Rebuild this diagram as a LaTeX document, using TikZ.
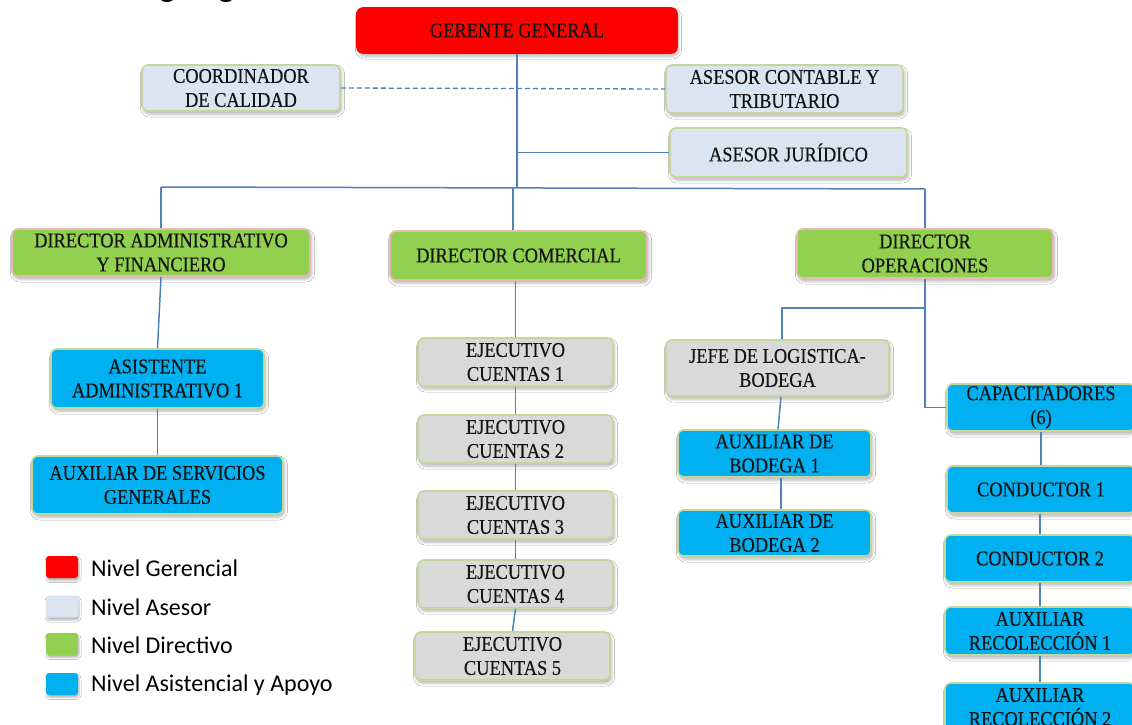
\documentclass[tikz,border=0pt]{standalone}
\usepackage{fontspec}
\setmainfont{Liberation Serif}
\newfontfamily\cardfont{Liberation Serif}[FakeStretch=0.88, FakeBold=0.4]
\newfontfamily\legendfont{Carlito}
\usetikzlibrary{shadows.blur}

\definecolor{gerred}{HTML}{FF0000}
\definecolor{asesorfill}{HTML}{DBE5F1}
\definecolor{paleolive}{HTML}{C3D69B}
\definecolor{dirgreen}{HTML}{92D050}
\definecolor{dirborder}{HTML}{E6B9B8}
\definecolor{apoyoblue}{HTML}{00B0F0}
\definecolor{ejgray}{HTML}{D9D9D9}
\definecolor{lineblue}{HTML}{4F81BD}
\definecolor{inktext}{HTML}{141414}

\tikzset{
  card/.style={rectangle, rounded corners=6pt, inner sep=0pt, align=center,
    text=inktext, font=\cardfont\fontsize{20.9}{24}\selectfont, line width=1.6pt,
    blur shadow={shadow xshift=1.5pt, shadow yshift=-3pt, shadow blur radius=3pt, shadow opacity=30}},
  gerbox/.style={card, fill=gerred, draw=gerred},
  asesorbox/.style={card, fill=asesorfill, draw=paleolive},
  dirbox/.style={card, fill=dirgreen, draw=dirborder},
  apoyobox/.style={card, fill=apoyoblue, draw=paleolive},
  ejbox/.style={card, fill=ejgray, draw=paleolive},
  conn/.style={draw=lineblue, line width=1.5pt},
  swatch/.style={rectangle, rounded corners=3pt, minimum width=32pt, minimum height=22pt,
    inner sep=0pt,
    blur shadow={shadow xshift=1pt, shadow yshift=-2.5pt, shadow blur radius=2pt, shadow opacity=30}},
  legendtext/.style={anchor=west, inner sep=0pt, text=black, font=\legendfont\fontsize{24}{28}\selectfont}
}

\begin{document}
\begin{tikzpicture}[x=1pt, y=-1pt]
\useasboundingbox (0,0) rectangle (1132,725);
\clip (0,0) rectangle (1132,725);
\fill[white] (0,0) rectangle (1132,725);

% heading, running above the top edge so only its descenders show
\node[anchor=base west, inner sep=0pt, font=\legendfont\fontsize{35}{40}\selectfont] (title) at (124,-3) {Organigrama};

% management and advisers
\node[gerbox, minimum width=320pt, minimum height=45pt] (ger) at (517,30.5) {GERENTE GENERAL};
\node[asesorbox, minimum width=198pt, minimum height=46pt] (coord) at (241,88) {COORDINADOR\\DE CALIDAD};
\node[asesorbox, minimum width=237pt, minimum height=48pt] (cont) at (784.5,89) {ASESOR CONTABLE Y\\TRIBUTARIO};
\node[asesorbox, minimum width=237pt, minimum height=49pt] (jur) at (788.5,152.5) {ASESOR JURÍDICO};

% directors
\node[dirbox, minimum width=298pt, minimum height=47pt] (dadm) at (161,252.5) {DIRECTOR ADMINISTRATIVO\\Y FINANCIERO};
\node[dirbox, minimum width=257pt, minimum height=49pt] (dcom) at (518.5,255.5) {DIRECTOR COMERCIAL};
\node[dirbox, minimum width=256pt, minimum height=49pt] (dope) at (925,253.5) {DIRECTOR\\OPERACIONES};

% administrative branch
\node[apoyobox, minimum width=213pt, minimum height=59pt] (asis) at (157.5,378.5) {ASISTENTE\\ADMINISTRATIVO 1};
\node[apoyobox, minimum width=251pt, minimum height=58pt] (auxs) at (157.5,485) {AUXILIAR DE SERVICIOS\\GENERALES};

% commercial branch
\node[ejbox, minimum width=195pt, minimum height=48pt] (ej1) at (515.5,362) {EJECUTIVO\\CUENTAS 1};
\node[ejbox, minimum width=195pt, minimum height=48pt] (ej2) at (515.5,439) {EJECUTIVO\\CUENTAS 2};
\node[ejbox, minimum width=195pt, minimum height=48pt] (ej3) at (515.5,515) {EJECUTIVO\\CUENTAS 3};
\node[ejbox, minimum width=195pt, minimum height=48pt] (ej4) at (515.5,584) {EJECUTIVO\\CUENTAS 4};
\node[ejbox, minimum width=195pt, minimum height=48pt] (ej5) at (512.5,656) {EJECUTIVO\\CUENTAS 5};

% operations branch
\node[ejbox, minimum width=223pt, minimum height=56pt] (jefe) at (777.5,368) {JEFE DE LOGISTICA-\\BODEGA};
\node[apoyobox, minimum width=193pt, minimum height=47pt] (ab1) at (774.5,453.5) {AUXILIAR DE\\BODEGA 1};
\node[apoyobox, minimum width=193pt, minimum height=46pt] (ab2) at (774.5,533) {AUXILIAR DE\\BODEGA 2};
\node[apoyobox, minimum width=188pt, minimum height=47pt] (cap) at (1041,407.5) {CAPACITADORES\\(6)};
\node[apoyobox, minimum width=188pt, minimum height=47pt] (cond1) at (1041,489.5) {CONDUCTOR 1};
\node[apoyobox, minimum width=190pt, minimum height=47pt] (cond2) at (1040,558.5) {CONDUCTOR 2};
\node[apoyobox, minimum width=190pt, minimum height=48pt] (rec1) at (1040,631) {AUXILIAR\\RECOLECCIÓN 1};
\node[apoyobox, minimum width=190pt, minimum height=48pt] (rec2) at (1040,707) {AUXILIAR\\RECOLECCIÓN 2};

% connectors
\coordinate (busL) at (161,187);
\coordinate (busR) at (925,189);
\coordinate (drop) at (513,188);
\coordinate (opsplit) at (782,308);

\draw[conn, dash pattern=on 5pt off 3pt, line width=1.3pt] (coord.east) -- (cont.west);
\draw[conn] (ger.south) -- (ger.south |- drop);
\draw[conn] (ger.south |- jur.west) -- (jur.west);
\draw[conn] (busL) -- (busR);
\draw[conn] (busL) -- (dadm.north);
\draw[conn] (drop) -- (drop |- dcom.north);
\draw[conn] (busR) -- (dope.north);

\draw[conn] (dadm.south) -- (asis.north);
\draw[conn] (asis.south) -- (auxs.north);

\draw[conn] (ej1.north |- dcom.south) -- (ej1.north);
\draw[conn] (ej1.south) -- (ej2.north);
\draw[conn] (ej2.south) -- (ej3.north);
\draw[conn] (ej3.south) -- (ej4.north);
\draw[conn] (ej4.south) -- (ej5.north);

\draw[conn] (dope.south) |- (cap.west);
\draw[conn] (dope.south |- opsplit) -- (opsplit) -- (opsplit |- jefe.north);
\draw[conn] ([xshift=3.5pt]jefe.south) -- ([xshift=3.5pt]ab1.north);
\draw[conn] ([xshift=6.5pt]ab1.south) -- ([xshift=6.5pt]ab2.north);
\draw[conn] (cap.south) -- (cap.south |- cond1.north);
\draw[conn] (cond2.north |- cond1.south) -- (cond2.north);
\draw[conn] (cond2.south) -- (rec1.north);
\draw[conn] (rec1.south) -- (rec2.north);

% legend
\node[swatch, fill=gerred] (sw1) at (62,567) {};
\node[swatch, fill=asesorfill] (sw2) at (62,606.5) {};
\node[swatch, fill=dirgreen] (sw3) at (62,644) {};
\node[swatch, fill=apoyoblue] (sw4) at (62,684) {};
\node[legendtext] (lg1) at (91,568) {Nivel Gerencial};
\node[legendtext] (lg2) at (91,607) {Nivel Asesor};
\node[legendtext] (lg3) at (91,645) {Nivel Directivo};
\node[legendtext] (lg4) at (91,685) {Nivel Asistencial y Apoyo};
\end{tikzpicture}
\end{document}
